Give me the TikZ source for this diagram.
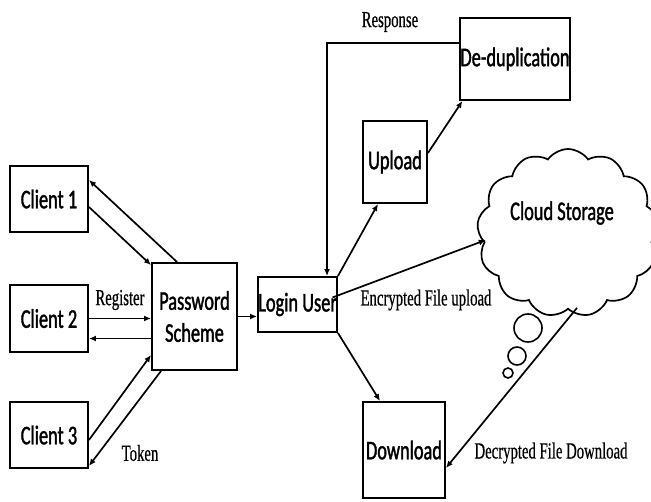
\documentclass[tikz,border=0pt]{standalone}
\usepackage{fontspec}
\usetikzlibrary{arrows.meta,shapes.symbols,calc}
\newfontfamily\boxfont[FakeStretch=0.68,FakeBold=1.4]{Carlito}
\newfontfamily\lblfont[FakeStretch=0.64,FakeBold=0.5]{Liberation Serif}
\begin{document}
\begin{tikzpicture}[x=1pt,y=-1pt,
  box/.style={draw,line width=1.9pt,inner sep=0pt,font=\boxfont\fontsize{27}{28}\selectfont,align=center},
  arr/.style={line width=1.7pt,-{Latex[length=7pt,width=6pt]}},
  lbl/.style={font=\lblfont\fontsize{23}{24}\selectfont,inner sep=0pt}]
\useasboundingbox (0,0) rectangle (651,502);
% boxes
\node[box,minimum width=78pt,minimum height=66pt] (c1) at (49,199) {Client 1};
\node[box,minimum width=78pt,minimum height=67pt] (c2) at (49,318.5) {Client 2};
\node[box,minimum width=78pt,minimum height=66pt] (c3) at (49,435) {Client 3};
\node[box,minimum width=85pt,minimum height=107pt] (ps) at (194.5,316.5) {Password\\[4pt]Scheme};
\node[box,minimum width=79pt,minimum height=55pt] (login) at (297.5,304.5) {Login User};
\node[box,minimum width=64pt,minimum height=82pt] (upload) at (395,162) {Upload};
\node[box,minimum width=106pt,minimum height=82pt] (dedup) at (515,59) {De-duplication};
\node[box,minimum width=82pt,minimum height=96pt] (download) at (404,450) {Download};
\node[cloud,draw,line width=1.7pt,cloud puffs=13,cloud puff arc=110,cloud ignores aspect,minimum width=182pt,minimum height=168pt,inner sep=0pt] (cloud) at (568,233) {};
\node[font=\boxfont\fontsize{27}{28}\selectfont,inner sep=0pt] (cst) at (562,213) {Cloud Storage};
% thought bubbles
\draw[line width=1.6pt] (528,328) circle (14pt);
\draw[line width=1.6pt] (517,356) circle (9pt);
\draw[line width=1.6pt] (508,373) circle (5pt);
% client arrows
\draw[arr] ([yshift=-8pt]c1.east) -- ([yshift=-3pt]ps.north west);
\draw[arr] ([xshift=26pt]ps.north west) -- ([yshift=19pt]c1.east);
\draw[arr] (c2.east) -- (c2.east -| ps.west);
\coordinate (r2) at ($(ps.west)+(0,22)$);
\draw[arr] (r2) -- (r2 -| c2.east);
\draw[arr] ([yshift=-5pt]c3.east) -- ([yshift=16pt]ps.south west);
\draw[arr] ([xshift=10pt]ps.south west) -- ([yshift=3pt]c3.south east);
% password -> login
\draw[arr] (ps.east) -- (ps.east -| login.west);
% login arrows
\draw[arr] (login.north east) -- ([xshift=-17pt]upload.south);
\draw[arr] ([yshift=9pt]upload.east) -- ([xshift=3pt]dedup.south west);
\coordinate (rs) at ($(dedup.west)+(0,-16)$);
\coordinate (rl) at ($(login.north)+(29.5,0)$);
\draw[arr] (rs) -| (rl);
\draw[arr] ($(login.center)+(35,-7)$) -- ($(cloud.west)+(8,7)$);
\draw[arr] (login.south east) -- ([xshift=-24pt]download.north);
\draw[arr] ($(cloud.south)+(9,-2)$) -- ([yshift=-18pt]download.east);
% labels
\node[lbl] (lresp) at (390,22) {Response};
\node[lbl] (lreg) at (120,300) {Register};
\node[lbl] (ltok) at (140,453) {Token};
\node[lbl] (lenc) at (426,300) {Encrypted File upload};
\node[lbl] (ldec) at (551,453) {Decrypted File Download};
\end{tikzpicture}
\end{document}
